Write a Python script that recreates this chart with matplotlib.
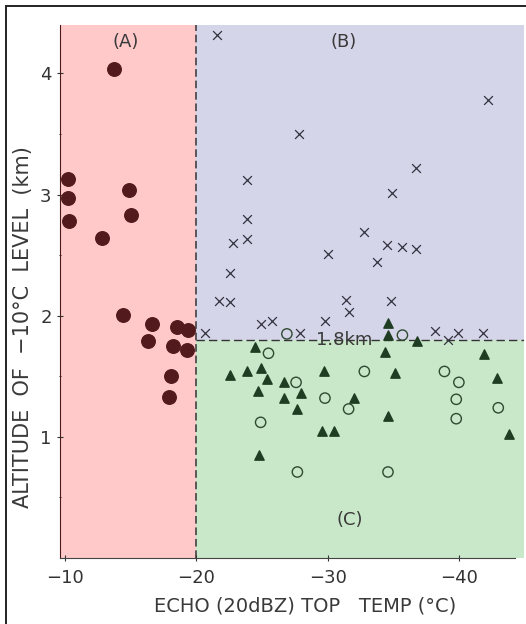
import matplotlib
matplotlib.use('Agg')
import matplotlib.pyplot as plt
from matplotlib.patches import Rectangle

# (A) echo top warmer than -20C : dots
a_temp = [-13.7, -10.2, -10.2, -10.3, -14.9, -15.0, -12.8, -14.4, -16.6, -18.5,
          -19.4, -16.3, -18.2, -19.3, -18.1, -17.9]
a_alt = [4.04, 3.13, 2.97, 2.78, 3.04, 2.83, 2.64, 2.01, 1.93, 1.91,
         1.88, 1.79, 1.75, 1.72, 1.50, 1.33]

# (B) crosses
b_temp = [-21.6, -27.8, -23.9, -23.9, -22.8, -23.9, -22.6, -21.7, -22.6, -32.8,
          -30.0, -31.4, -31.6, -29.8, -24.9, -25.8, -42.2, -36.7, -34.9, -34.5,
          -35.7, -36.7, -33.8, -34.8, -20.7, -27.9, -38.2, -39.2, -39.9, -41.8]
b_alt = [4.32, 3.50, 3.12, 2.80, 2.60, 2.63, 2.35, 2.12, 2.11, 2.69,
         2.51, 2.13, 2.03, 1.96, 1.93, 1.96, 3.78, 3.22, 3.01, 2.58,
         2.57, 2.55, 2.44, 2.12, 1.86, 1.86, 1.87, 1.80, 1.86, 1.86]

# (C) triangles
c_tri_temp = [-24.5, -22.6, -23.9, -24.9, -25.4, -24.7, -26.7, -26.7, -28.0, -27.7,
              -29.7, -29.6, -30.5, -32.0, -24.8, -34.4, -35.1, -34.6, -41.9, -42.9,
              -43.8, -34.6, -34.6, -36.8]
c_tri_alt = [1.74, 1.51, 1.54, 1.57, 1.48, 1.38, 1.45, 1.32, 1.36, 1.23,
             1.54, 1.05, 1.05, 1.32, 0.85, 1.70, 1.53, 1.17, 1.68, 1.49,
             1.02, 1.94, 1.84, 1.79]

# (C) open circles
c_circ_temp = [-25.5, -27.6, -29.8, -31.6, -24.9, -27.7, -32.8, -38.9, -40.0, -39.8,
               -39.8, -43.0, -34.6, -26.9, -35.7]
c_circ_alt = [1.69, 1.45, 1.32, 1.23, 1.12, 0.71, 1.54, 1.54, 1.45, 1.31,
              1.15, 1.24, 0.71, 1.85, 1.84]

split_temp = -20
split_alt = 1.8
x_lo, x_hi = -9.62, -44.96
y_lo, y_hi = 0, 4.4

fig = plt.figure(figsize=(5.26, 6.24), dpi=100)
ax = fig.add_axes([60 / 526, 1 - 558 / 624, 464 / 526, 533 / 624])

# cadre autour de la figure
fig.patches.append(Rectangle((6 / 526, -0.05), 1.1, 1 - 6 / 624 + 0.05,
                             transform=fig.transFigure, fill=False,
                             edgecolor='#222222', linewidth=1.4))

# zones colorees
ax.axvspan(x_lo, split_temp, color='#ffc9c9', zorder=0, lw=0)
ax.fill_between([split_temp, x_hi], split_alt, y_hi, color='#d5d5e9', zorder=0, lw=0)
ax.fill_between([split_temp, x_hi], y_lo, split_alt, color='#c9e8c9', zorder=0, lw=0)

ax.axvline(split_temp, color='#333333', lw=1.1, ls=(0, (5, 2.5)), zorder=1)
ax.plot([split_temp, x_hi], [split_alt, split_alt], color='#333333', lw=1.0,
        ls=(0, (6, 3)), zorder=1)

ax.scatter(a_temp, a_alt, s=95, color='#521a1c', zorder=3)
ax.scatter(b_temp, b_alt, s=40, marker='x', color='#333340', linewidths=0.9, zorder=3)
ax.scatter(c_tri_temp, c_tri_alt, s=45, marker='^', color='#1f3d22', zorder=3)
ax.scatter(c_circ_temp, c_circ_alt, s=55, marker='o', facecolor='none',
           edgecolor='#2e4a30', linewidths=1.0, zorder=3)

txt = '#3a3a3a'
ax.text(-14.6, 4.26, '(A)', fontsize=13, color=txt, ha='center', va='center')
ax.text(-31.2, 4.26, '(B)', fontsize=13, color=txt, ha='center', va='center')
ax.text(-31.7, 0.31, '(C)', fontsize=13, color=txt, ha='center', va='center')
ax.text(-31.3, 1.8, '1.8km', fontsize=13, color=txt, ha='center', va='center', zorder=2)

ax.set_xlim(x_lo, x_hi)
ax.set_ylim(y_lo, y_hi)
ax.set_xticks([-10, -20, -30, -40])
ax.set_xticklabels(['\u221210', '\u221220', '\u221230', '\u221240'])
ax.set_yticks([1, 2, 3, 4])
ax.set_yticks([0.5, 1.5, 2.5, 3.5], minor=True)
ax.tick_params(axis='both', labelsize=13, colors='#333333', length=4, width=0.8,
               direction='inout', pad=6)
ax.tick_params(axis='y', pad=4)
ax.tick_params(axis='y', which='minor', length=2, width=0.6, direction='inout')

for s in ['top', 'right']:
    ax.spines[s].set_visible(False)
ax.spines['left'].set_color('#4a1a1a')
ax.spines['bottom'].set_color('#444444')
ax.spines['bottom'].set_bounds(x_lo, -44.27)

ax.set_xlabel('ECHO (20dBZ) TOP   TEMP (\u00b0C)', fontsize=14, color=txt)
ax.set_ylabel('ALTITUDE  OF  \u221210\u00b0C  LEVEL  (km)', fontsize=15, color=txt)
ax.xaxis.set_label_coords(0.528, -39 / 533)
ax.yaxis.set_label_coords(-27 / 464, 0.433)

fig.savefig('out.png', dpi=100)
